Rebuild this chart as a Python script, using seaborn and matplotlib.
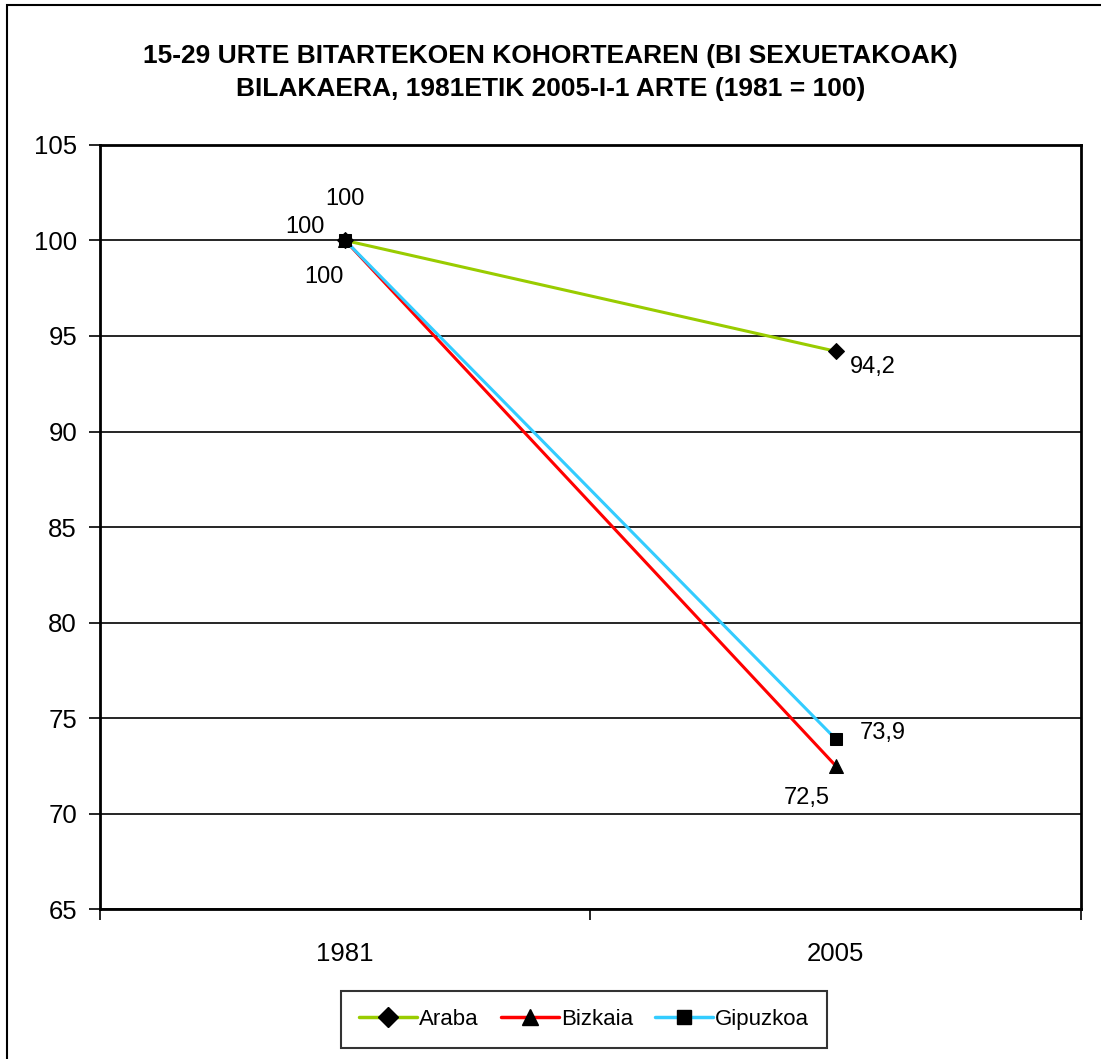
import matplotlib
matplotlib.use("Agg")
import matplotlib.pyplot as plt
import matplotlib.patches as mpatches
from matplotlib.lines import Line2D
import pandas as pd
import seaborn as sns

years = ["1981", "2005"]
araba = [100, 94.2]
bizkaia = [100, 72.5]
gipuzkoa = [100, 73.9]
labels = ["Araba", "Bizkaia", "Gipuzkoa"]
colors = ["#99CC00", "#FF0000", "#33CCFF"]
markers = ["D", "^", "s"]
title = ("15-29 URTE BITARTEKOEN KOHORTEAREN (BI SEXUETAKOAK)\n"
         "BILAKAERA, 1981ETIK 2005-I-1 ARTE (1981 = 100)")

sns.set_style("white")
plt.rcParams['font.family'] = ['Liberation Sans', 'DejaVu Sans']
plt.rcParams['text.color'] = 'black'
plt.rcParams['xtick.color'] = 'black'
plt.rcParams['ytick.color'] = 'black'

df = pd.DataFrame({"urtea": years * 3,
                   "balioa": araba + bizkaia + gipuzkoa,
                   "lurraldea": [l for l in labels for _ in years]})

fig = plt.figure(figsize=(11.01, 10.59), dpi=100)
ax = fig.add_axes([0.0908, 0.1416, 0.8910, 0.7215])

for lab, col, mk, msz in zip(labels, colors, markers, [8, 10, 9]):
    sub = df[df["lurraldea"] == lab]
    sns.lineplot(data=sub, x="urtea", y="balioa", ax=ax, color=col, lw=2.2,
                 marker=mk, markersize=msz, markerfacecolor="black",
                 markeredgecolor="black", legend=False, sort=False)

ax.set_xlim(-0.5, 1.5)
ax.set_ylim(65, 105)
ax.set_yticks(range(65, 106, 5))
ax.yaxis.grid(True, color="black", lw=1.2)
ax.set_xticks([0, 1])
ax.set_xticklabels(years)
ax.set_xticks([-0.5, 0.5, 1.5], minor=True)
ax.tick_params(axis="x", which="major", bottom=True, length=0, pad=24, labelsize=18.5)
ax.tick_params(axis="x", which="minor", bottom=True, length=8, width=1.2, direction="out")
ax.tick_params(axis="y", left=True, length=8, width=1.2, direction="out", labelsize=18.5, pad=8.5)
ax.set_xlabel("")
ax.set_ylabel("")
for s in ax.spines.values():
    s.set_color("black")
    s.set_linewidth(2)

# data labels
fs = 17
ax.annotate("100", (0, araba[0]), xytext=(0, 30), textcoords="offset points", ha="center", va="center", fontsize=fs)
ax.annotate("100", (0, gipuzkoa[0]), xytext=(-29, 10), textcoords="offset points", ha="center", va="center", fontsize=fs)
ax.annotate("100", (0, bizkaia[0]), xytext=(-15, -26), textcoords="offset points", ha="center", va="center", fontsize=fs)
ax.annotate("94,2", (1, araba[1]), xytext=(27, -11), textcoords="offset points", ha="center", va="center", fontsize=fs)
ax.annotate("73,9", (1, gipuzkoa[1]), xytext=(34, 4), textcoords="offset points", ha="center", va="center", fontsize=fs)
ax.annotate("72,5", (1, bizkaia[1]), xytext=(-21, -23), textcoords="offset points", ha="center", va="center", fontsize=fs)

fig.suptitle(title, x=0.5, y=0.958, fontsize=19, fontweight="bold", linespacing=1.45)

handles = [Line2D([], [], color=c, lw=2.5, marker=m, markersize=ms,
                  markerfacecolor="black", markeredgecolor="black")
           for c, m, ms in zip(colors, markers, [10, 12, 10])]
leg = fig.legend(handles, labels, loc="center", bbox_to_anchor=(584 / 1101, 1 - 1019.5 / 1059), ncol=3,
                 fontsize=16, frameon=True, fancybox=False, edgecolor="black",
                 handlelength=2.6, handletextpad=0.1, columnspacing=1.0, borderpad=0.8)
leg.get_frame().set_linewidth(1.5)

fig.patches.append(mpatches.Rectangle((7 / 1101, -0.01), 1.0, 1 - 5 / 1059 + 0.01,
                                      transform=fig.transFigure, fill=False,
                                      edgecolor="black", lw=1.5))

fig.savefig("out.png", dpi=100)
